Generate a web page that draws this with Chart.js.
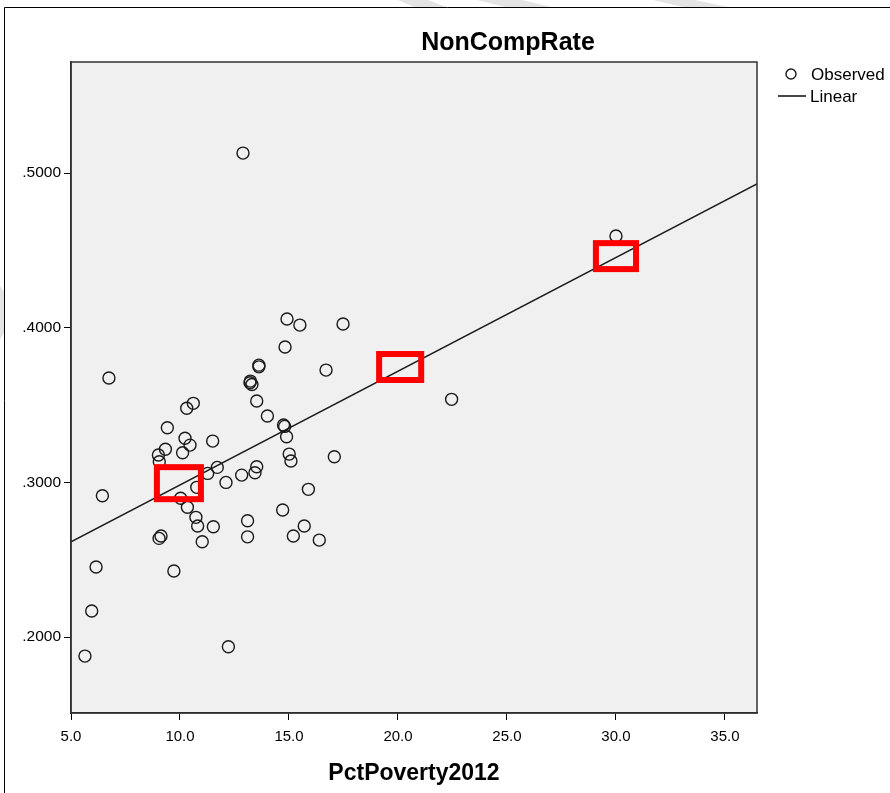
<!DOCTYPE html>
<html><head><meta charset="utf-8">
<script src="https://cdn.jsdelivr.net/npm/chart.js@4/dist/chart.umd.min.js"></script>
<style>html,body{margin:0;padding:0;background:#fff;overflow:hidden}#wrap{position:relative;width:890px;height:793px}</style>
</head><body><div id="wrap"><canvas id="c" width="890" height="793"></canvas></div>
<script>
const chartTitle = 'NonCompRate';
const xAxisTitle = 'PctPoverty2012';
const legendLabels = ['Observed', 'Linear'];
const xTickValues = [5, 10, 15, 20, 25, 30, 35];
const xTickLabels = ['5.0', '10.0', '15.0', '20.0', '25.0', '30.0', '35.0'];
const yTickValues = [0.2, 0.3, 0.4, 0.5];
const yTickLabels = ['.2000', '.3000', '.4000', '.5000'];
const xRange = [5, 36.47];
const yRange = [0.1509, 0.5718];

const povertyPct = [12.89, 30.00, 14.91, 15.50, 17.48, 14.82, 6.74, 16.70, 13.62, 13.62,
  13.23, 13.30, 13.21, 13.52, 14.01, 10.31, 10.61, 9.42, 10.23, 10.46,
  10.12, 11.50, 9.33, 9.01, 9.05, 11.71, 11.27, 14.75, 14.80, 14.89,
  15.01, 15.09, 17.08, 13.52, 13.44, 12.83, 12.11, 15.89, 14.71, 15.70,
  13.10, 13.10, 15.20, 16.39, 11.53, 10.81, 10.73, 10.34, 11.02, 9.04,
  9.13, 6.44, 6.15, 9.72, 5.95, 5.64, 12.22, 22.46, 10.77, 10.03];
const nonCompRate = [0.5129, 0.4593, 0.4056, 0.4017, 0.4024, 0.3875, 0.3675, 0.3726, 0.3758, 0.3747,
  0.3655, 0.3633, 0.3644, 0.3526, 0.3429, 0.3479, 0.3511, 0.3353, 0.3285, 0.3241,
  0.3192, 0.3267, 0.3214, 0.3177, 0.3133, 0.3097, 0.3058, 0.3371, 0.3362, 0.3295,
  0.3183, 0.3138, 0.3166, 0.3101, 0.3062, 0.3047, 0.3000, 0.2955, 0.2821, 0.2718,
  0.2752, 0.2648, 0.2653, 0.2627, 0.2713, 0.2718, 0.2774, 0.2839, 0.2616, 0.2638,
  0.2653, 0.2914, 0.2453, 0.2427, 0.2168, 0.1877, 0.1937, 0.3537, 0.2968, 0.2897];
const fitX = [5, 36.47];
const fitY = [0.2615, 0.4930];
// highlighted spots on the fit line (red boxes)
const boxX = [9.95, 20.1, 30.0];
const boxY = [0.2995, 0.3746, 0.4463];
const boxW = [2.02, 1.93, 1.84];
const boxH = [0.0207, 0.0168, 0.0168];

const FONT = 'Arial, "Liberation Sans", sans-serif';

const decor = {
  id: 'decor',
  beforeDraw(chart) {
    const {ctx, chartArea: a} = chart;
    ctx.save();
    ctx.fillStyle = '#fff';
    ctx.fillRect(0, 0, chart.width, chart.height);
    // faint watermark stripes
    ctx.fillStyle = '#e4e4e4';
    const stripes = [
      [[398,0],[428,0],[446,7],[414,7]],
      [[477,0],[522,0],[552,7],[505,7]],
      [[653,0],[695,0],[728,7],[683,7]],
      [[0,286],[4,292],[4,333],[0,339]]
    ];
    stripes.forEach(p => { ctx.beginPath(); ctx.moveTo(p[0][0], p[0][1]); for (let i = 1; i < p.length; i++) ctx.lineTo(p[i][0], p[i][1]); ctx.closePath(); ctx.fill(); });
    // outer frame
    ctx.strokeStyle = '#000';
    ctx.lineWidth = 1;
    ctx.beginPath();
    ctx.moveTo(4.5, chart.height);
    ctx.lineTo(4.5, 7.5);
    ctx.lineTo(chart.width, 7.5);
    ctx.stroke();
    // plot background
    ctx.fillStyle = '#f0f0f0';
    ctx.fillRect(a.left, a.top, a.right - a.left, a.bottom - a.top);
    ctx.restore();
  },
  afterDatasetsDraw(chart) {
    const {ctx, chartArea: a, scales: {x, y}} = chart;
    ctx.save();
    ctx.strokeStyle = '#333';
    ctx.lineWidth = 1.5;
    ctx.strokeRect(a.left, a.top, a.right - a.left, a.bottom - a.top);
    ctx.strokeStyle = '#ff0000';
    ctx.lineWidth = 6;
    for (let i = 0; i < boxX.length; i++) {
      const x0 = x.getPixelForValue(boxX[i] - boxW[i] / 2);
      const x1 = x.getPixelForValue(boxX[i] + boxW[i] / 2);
      const y0 = y.getPixelForValue(boxY[i] + boxH[i] / 2);
      const y1 = y.getPixelForValue(boxY[i] - boxH[i] / 2);
      ctx.strokeRect(x0, y0, x1 - x0, y1 - y0);
    }
    ctx.restore();
  },
  afterDraw(chart) {
    const {ctx} = chart;
    ctx.save();
    ctx.fillStyle = '#000';
    ctx.font = 'bold 25px ' + FONT;
    ctx.textAlign = 'center';
    ctx.textBaseline = 'middle';
    ctx.fillText(chartTitle, 508, 43);
    // legend
    ctx.strokeStyle = '#1a1a1a';
    ctx.lineWidth = 1.4;
    ctx.beginPath();
    ctx.arc(791, 74, 5, 0, Math.PI * 2);
    ctx.stroke();
    ctx.lineWidth = 1.6;
    ctx.beginPath();
    ctx.moveTo(778, 96);
    ctx.lineTo(806, 96);
    ctx.stroke();
    ctx.font = '17px ' + FONT;
    ctx.textAlign = 'left';
    ctx.fillText(legendLabels[0], 811, 75);
    ctx.fillText(legendLabels[1], 810, 97);
    ctx.restore();
  }
};

new Chart(document.getElementById('c'), {
  type: 'scatter',
  data: {
    datasets: [
      {
        label: legendLabels[1],
        data: fitX.map((v, i) => ({x: v, y: fitY[i]})),
        showLine: true,
        borderColor: '#1a1a1a',
        borderWidth: 1.5,
        pointRadius: 0,
        fill: false
      },
      {
        label: legendLabels[0],
        data: povertyPct.map((v, i) => ({x: v, y: nonCompRate[i]})),
        pointStyle: 'circle',
        pointRadius: 6,
        pointBorderWidth: 1.4,
        borderColor: '#1a1a1a',
        backgroundColor: 'rgba(0,0,0,0)'
      }
    ]
  },
  options: {
    responsive: false,
    animation: false,
    devicePixelRatio: 1,
    layout: {padding: {top: 62, right: 133, bottom: 0, left: 0}},
    plugins: {legend: {display: false}, title: {display: false}, tooltip: {enabled: false}},
    scales: {
      x: {
        type: 'linear', min: xRange[0], max: xRange[1],
        afterBuildTicks: s => { s.ticks = xTickValues.map(v => ({value: v})); },
        afterFit: s => { s.height = 80; },
        ticks: {callback: (v, i) => xTickLabels[i], color: '#000', font: {family: FONT, size: 15}, padding: 8, maxRotation: 0, autoSkip: false},
        grid: {display: true, drawOnChartArea: false, drawTicks: true, tickLength: 7, color: '#000', lineWidth: 1},
        border: {display: true, color: '#222', width: 1.5},
        title: {display: true, text: xAxisTitle, color: '#000', font: {family: FONT, size: 23, weight: 'bold'}, padding: {top: 0, bottom: 6}}
      },
      y: {
        type: 'linear', min: yRange[0], max: yRange[1],
        afterBuildTicks: s => { s.ticks = yTickValues.map(v => ({value: v})); },
        afterFit: s => { s.width = 71; },
        ticks: {callback: (v, i) => yTickLabels[i], color: '#000', font: {family: FONT, size: 15.5}, padding: 3, autoSkip: false},
        grid: {display: true, drawOnChartArea: false, drawTicks: true, tickLength: 7, color: '#000', lineWidth: 1},
        border: {display: true, color: '#222', width: 1.5}
      }
    }
  },
  plugins: [decor]
});
</script></body></html>
